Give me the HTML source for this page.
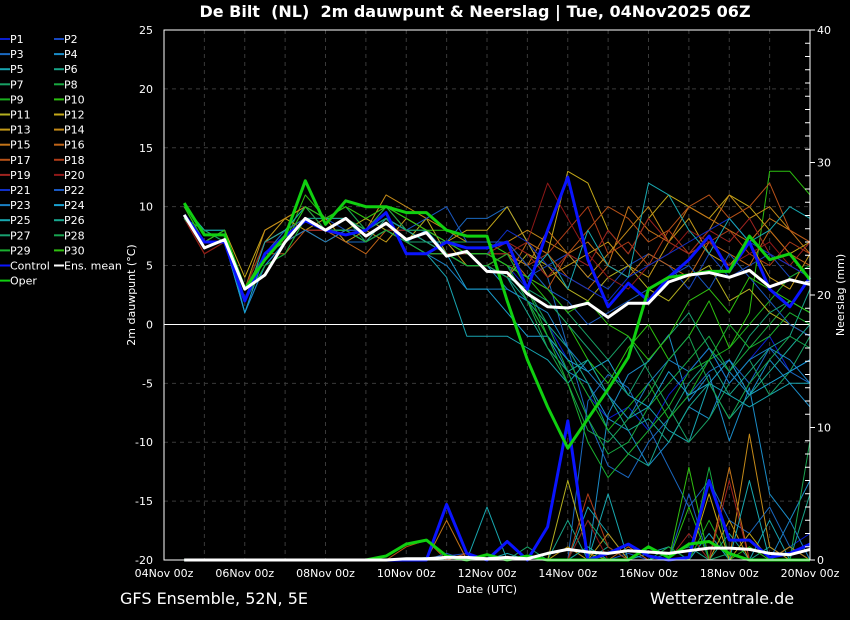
<!DOCTYPE html>
<html><head><meta charset="utf-8"><style>
html,body{margin:0;padding:0;background:#000;}
svg{display:block;font-family:"DejaVu Sans","Liberation Sans",sans-serif;}
</style></head><body>
<svg id="chart" width="850" height="620" viewBox="0 0 850 620">
<rect x="0" y="0" width="850" height="620" fill="#000"/>
<text x="475" y="17" fill="#fff" font-size="16" font-weight="bold" text-anchor="middle" xml:space="preserve">De Bilt  (NL)  2m dauwpunt &amp; Neerslag | Tue, 04Nov2025 06Z</text>
<g id="grid"></g>
<g id="legend"></g>
<g id="series"></g>
<g id="axes"></g>
<text x="120" y="604" fill="#fff" font-size="16">GFS Ensemble, 52N, 5E</text>
<text x="650" y="604" fill="#fff" font-size="16">Wetterzentrale.de</text>
</svg>
<script>
// time steps in days after 04Nov 00z (12-hourly)
const days = [0.5,1,1.5,2,2.5,3,3.5,4,4.5,5,5.5,6,6.5,7,7.5,8,8.5,9,9.5,10,10.5,11,11.5,12,12.5,13,13.5,14,14.5,15,15.5,16];
const xTickLabels = ["04Nov 00z","06Nov 00z","08Nov 00z","10Nov 00z","12Nov 00z","14Nov 00z","16Nov 00z","18Nov 00z","20Nov 00z"];
const yTicks = [25,20,15,10,5,0,-5,-10,-15,-20];
const y2Ticks = [0,10,20,30,40];
const memberNames = ["P1","P2","P3","P4","P5","P6","P7","P8","P9","P10","P11","P12","P13","P14","P15","P16","P17","P18","P19","P20","P21","P22","P23","P24","P25","P26","P27","P28","P29","P30"];
const memberColors = ["#0a1ed0","#1848c0","#1a68c0","#1a8cc8","#18a4b0","#18a488","#18a064","#18a840","#1ab01e","#2cc010","#b4b020","#c4a818","#c49a18","#c48a18","#c47418","#c06418","#b85218","#b03c18","#a02420","#901818","#1030c8","#1a58c0","#1a80c4","#1aa0d0","#18a8b0","#18a890","#18a070","#18a450","#1ab030","#30c010"];
const meanT = [9.3,6.5,7.2,3,4.2,7,9,8,9,7.5,8.6,7.2,7.8,5.8,6.2,4.5,4.4,2.6,1.5,1.4,1.8,0.6,1.8,1.8,3.6,4.2,4.4,4,4.6,3.2,3.8,3.4];
const operT = [10.3,7.6,7.6,3,5.5,7.5,12.2,8.5,10.5,10,10,9.5,9.5,8,7.5,7.5,2,-3,-7,-10.5,-8,-5.5,-2.8,3,4,4.2,4.5,4.5,7.5,5.5,6,3.8];
const controlT = [9.3,7,7,2,6,7.5,8.8,8,7.6,8,9.5,6,6,7,6.5,6.5,7,3,8,12.5,5.5,1.5,3.5,2,4,5.5,7.5,4.5,7,3,1.5,4];
const p1 = [9,7,7,2,5,7,9,8,9,8,9,8,7,7,6,6,5,3,0,-3,-6,-8,-7,-9,-6,-4,-2,-5,-3,-1,-4,-3];
const p2 = [9,7,7,3,6,8,9,9,8,7,9,7,8,6,6,6,5,4,5,6,4,3,5,6,5,3,6,4,5,6,4,5];
const p3 = [10,8,7,2,6,7,8,8,7,7,8,7,8,7,9,9,10,7,4,-2,-8,-12,-13,-10,-8,-6,-4,-3,-5,-2,-4,-5];
const p4 = [9,7,8,1,5,7,9,8,8,8,9,7,6,6,5,5,3,2,-1,-4,-5,-8,-9,-12,-10,-7,-8,-4,-6,-3,-5,-7];
const p5 = [9,7,7,2,6,7,8,7,8,7,8,7,6,4,-1,-1,-1,-2,-3,-5,-3,-6,-8,-7,-9,-10,-5,-6,-7,-6,-5,-5];
const p6 = [10,8,8,3,7,8,9,9,10,8,9,8,7,6,5,5,4,2,0,-2,-5,-9,-11,-12,-8,-5,-3,-6,-4,-2,-1,3];
const p7 = [9,8,7,2,5,6,9,8,9,7,8,8,7,6,6,6,6,5,3,1,-1,-3,-1,-4,-7,-10,-8,-5,-3,-6,-4,-1];
const p8 = [10,7,8,2,6,8,10,9,10,8,10,9,8,7,7,7,6,3,0,-4,-8,-11,-10,-7,-5,-3,-1,-4,-2,0,2,1];
const p9 = [9,7,7,2,6,7,9,8,9,8,9,8,8,7,6,6,5,2,-1,-3,-6,-9,-7,-5,-8,-6,-3,-2,0,2,4,5];
const p10 = [10,8,7,3,6,7,11,9,10,9,10,9,8,8,7,7,6,4,2,0,-3,-5,-2,0,-3,-1,2,-2,1,13,13,11];
const p11 = [9,7,7,3,7,8,9,8,8,9,8,7,9,6,5,5,4,6,5,3,2,4,5,3,2,4,5,2,3,1,0,-1];
const p12 = [9,7,8,4,8,9,10,8,9,8,10,8,7,7,8,8,10,7,6,13,12,8,6,9,11,10,9,11,10,8,6,7];
const p13 = [9,7,7,3,7,9,8,9,7,8,7,9,8,7,5,5,6,7,4,5,6,7,5,4,7,9,6,5,7,4,3,6];
const p14 = [9,7,7,3,8,9,10,9,9,8,11,10,9,8,7,7,7,8,7,6,4,6,8,10,7,6,8,11,9,10,8,7];
const p15 = [9,7,7,2,7,8,9,8,8,7,9,8,7,7,6,6,6,5,8,6,7,5,10,8,7,10,9,8,7,9,8,6];
const p16 = [9,6,7,3,6,7,8,8,7,6,8,7,6,6,5,5,4,7,6,4,3,5,4,6,5,4,7,6,5,8,6,5];
const p17 = [9,7,7,2,6,6,8,7,8,7,8,7,7,6,5,5,6,4,3,6,8,10,9,7,8,10,11,9,10,12,8,7];
const p18 = [9,6,7,3,6,7,8,8,8,7,9,7,7,6,6,6,7,5,6,8,10,6,7,5,8,6,7,8,6,5,7,6];
const p19 = [9,7,7,3,6,7,8,8,8,7,8,8,7,7,6,6,7,6,4,6,5,8,6,9,7,6,8,7,9,6,5,7];
const p20 = [9,6,7,3,7,7,9,8,8,7,8,8,7,6,6,6,6,7,12,9,6,4,3,5,6,8,7,5,6,7,5,4];
const p21 = [9,7,7,3,6,7,9,8,8,8,9,8,8,7,6,6,8,7,5,4,3,2,4,5,6,7,8,9,7,6,5,4];
const p22 = [9,7,7,2,6,8,9,8,8,8,9,8,9,10,7,7,7,5,3,2,0,1,2,3,4,5,3,6,4,2,0,-1];
const p23 = [9,7,7,1,5,7,8,7,8,7,8,7,6,5,3,3,3,2,1,-2,-4,-6,-8,-5,-3,-4,-2,-5,-3,-2,-3,-5];
const p24 = [9,7,7,1,6,7,9,8,8,7,8,7,8,6,3,3,1,-1,-1,-3,-4,-3,-6,-7,-4,-6,-5,-3,-6,-5,-4,-3];
const p25 = [10,8,8,2,7,8,10,9,9,8,9,8,7,7,6,6,5,4,6,3,8,5,4,12,11,8,6,9,7,8,10,9];
const p26 = [9,7,7,2,6,7,9,8,8,7,9,8,7,6,5,5,4,1,-2,-4,-3,-6,-9,-8,-10,-7,-5,-8,-6,-4,-2,0];
const p27 = [9,8,7,2,6,7,9,8,9,8,9,7,7,6,5,5,4,3,2,0,-2,-4,-6,-3,-1,1,-2,-4,-1,1,2,1];
const p28 = [10,7,8,2,6,7,10,8,9,8,10,8,8,7,6,6,5,2,-2,-5,-9,-10,-8,-6,-3,-1,-5,-8,-5,-3,-1,-2];
const p29 = [9,7,7,2,5,6,9,8,8,7,8,7,6,6,5,5,6,3,-1,-5,-10,-13,-11,-9,-7,-4,-3,0,-2,-1,1,0];
const p30 = [10,7,8,3,6,7,10,9,10,9,10,9,8,7,6,6,5,4,3,1,2,0,-1,-3,-1,2,3,1,4,3,2,1];
const memberT = [p1,p2,p3,p4,p5,p6,p7,p8,p9,p10,p11,p12,p13,p14,p15,p16,p17,p18,p19,p20,p21,p22,p23,p24,p25,p26,p27,p28,p29,p30];
// precipitation (mm per step)
const meanR = [0,0,0,0,0,0,0,0,0,0,0,0.1,0.1,0.2,0.2,0.1,0.2,0.1,0.5,0.8,0.6,0.5,0.7,0.6,0.5,0.7,0.9,0.9,0.8,0.5,0.4,0.8];
const operR = [0,0,0,0,0,0,0,0,0,0,0.3,1.2,1.5,0.3,0,0.4,0,0.3,0,0,0,0,0,1,0.2,1.2,1.4,0.5,0,0,0,0];
const controlR = [0,0,0,0,0,0,0,0,0,0,0,0,0,4.2,0.5,0,1.4,0,2.5,10.5,0,0.5,1.2,0.3,0,0.2,6,1.5,1.5,0.2,0.5,1.2];
const r1 = [0,0,0,0,0,0,0,0,0,0,0,0,0,0,0,0,0,0,0,0,0,0,0,0,0,0,0,0,0,0,1,2];
const r2 = [0,0,0,0,0,0,0,0,0,0,0,0,0,0.3,0.5,0,0,0,0,0,1,0,0.5,0,0,0,2,0,0,0,0,0];
const r3 = [0,0,0,0,0,0,0,0,0,0,0,0,0,0,0,0,0,0,0,0,12,14,13,10,7,4,6,3,2,4,1,0];
const r4 = [0,0,0,0,0,0,0,0,0,0,0,0,0,0,0,0,0,0,0,0,0,11,14,15,17,12,14,9,13,5,3,6];
const r5 = [0,0,0,0,0,0,0,0,0,0,0,0,0,0,0,0,0.5,0,0,0,4,2,0,0.5,1,0,2,0,0,3,0,0];
const r6 = [0,0,0,0,0,0,0,0,0,0,0,0,0,0,0,0,0,0,0,3,0,1,0,0,0.5,1,0,2,0,1,0,5];
const r7 = [0,0,0,0,0,0,0,0,0,0,0,0,0.2,0,0,0,0,1,0,0,3,1,0,0,1,0,0,0.5,0,0,1,0];
const r8 = [0,0,0,0,0,0,0,0,0,0,0,0,0,0,0,0,0,0,0,0,0,2,0,0,1,0,7,0,0,0,1,0];
const r9 = [0,0,0,0,0,0,0,0,0,0,0,0,0,0,0,0,0,0,0,0,0,0,0,0,0,0,3,0,0,0,0,0];
const r10 = [0,0,0,0,0,0,0,0,0,0,0,0,0,0,0,0,0,0,0,0,0,0,0,0,0,4,0,0,1,0,0,0];
const r11 = [0,0,0,0,0,0,0,0,0,0,0,0,0,0,0,0,0,0,0,6,0.5,0,0,0,0,0,0,0,0,0,0,0];
const r12 = [0,0,0,0,0,0,0,0,0,0,0,0,0,0,0,0,0,0,0,0,0,0,0,0,0,0,5,0,2,0,0,0];
const r13 = [0,0,0,0,0,0,0,0,0,0,0,0,0,0,0,0,0,0,0,1,0,0,0,0,0,0,0,3,0,0,0,0];
const r14 = [0,0,0,0,0,0,0,0,0,0,0,0,0,0,0,0,0,0,0,0,0,2,0,0,0,0,0,0,9.5,1,0,0];
const r15 = [0,0,0,0,0,0,0,0,0,0,0,0,0,3,0,0,0,0,0,0,0,0,0,0,0,0,0,7,0,0,1,0];
const r16 = [0,0,0,0,0,0,0,0,0,0,0,0,0,0,0,0,0,0,0,0,0,0,1,0,0,0,0,0,0,0,0,0];
const r17 = [0,0,0,0,0,0,0,0,0,0,0,1,1.5,0,0.5,0,0,0,0,0,0,0,0,0,0,0,0,0,0,0,0,0];
const r18 = [0,0,0,0,0,0,0,0,0,0,0,0,0,0,0,0,0,0,0,0,5,1,0,0,0,0,0,0,0,0,0,0];
const r19 = [0,0,0,0,0,0,0,0,0,0,0,0,0,0,0,0,0,0,0,0,0,0,0,0,0,2,0,6,0,0,0,0];
const r20 = [0,0,0,0,0,0,0,0,0,0,0,0,0,0,0,0,0,0,0,0,3,0,0,0,0,0,0,0,0,0,0,0];
const r21 = [0,0,0,0,0,0,0,0,0,0,0,0,0,0,0,0,0,0,0,0,0,0,0,0,0,0,0,0,0,0,0,0];
const r22 = [0,0,0,0,0,0,0,0,0,0,0,0,0,0.5,0,0,0,0,0,0,0,0,0,0,0,5,0,0,0,0,0,0];
const r23 = [0,0,0,0,0,0,0,0,0,0,0,0,0,0,0,0,0,0,0,0,0,0,0,0,0,0,0,0,0,0,3,0];
const r24 = [0,0,0,0,0,0,0,0,0,0,0,0,0,0,0,0,0,0,0,0,0,0,0,0,0,0,0,0,0,0,0,0];
const r25 = [0,0,0,0,0,0,0,0,0,0,0,0,0,0,0,4,0,0,0,0,0,5,0,0,0,0,0,0,6,0,0,0];
const r26 = [0,0,0,0,0,0,0,0,0,0,0,0,0,0,0,0,0,0,0,0,1,0,0,0,0,0,0,0,0,0,0,0];
const r27 = [0,0,0,0,0,0,0,0,0,0,0,0,0,0,0,0,0,0,0,0,0,0,0,0,0,0,0,0,0,0,0,0];
const r28 = [0,0,0,0,0,0,0,0,0,0,0,0,0,0,0,0,0,0,0,0,0,0,0,0,0,0,0,0,0,0,0,9];
const r29 = [0,0,0,0,0,0,0,0,0,0,0,0,0,0,0,0,0,0,0,0,0,0,0,0,0,0,0,0,0,0,0,0];
const r30 = [0,0,0,0,0,0,0,0,0,0,0,0,0,0,0,0,0,0,0,0,0,0,0,0,0,7,0,0,0,0,0,0];
const memberR = [r1,r2,r3,r4,r5,r6,r7,r8,r9,r10,r11,r12,r13,r14,r15,r16,r17,r18,r19,r20,r21,r22,r23,r24,r25,r26,r27,r28,r29,r30];

const NS = "http://www.w3.org/2000/svg";
const L = 164, R = 810, T = 30, B = 560;
function xS(d){ return L + d/16*(R-L); }
function yS(v){ return B - (v+20)/45*(B-T); }
function y2S(v){ return B - v/40*(B-T); }
function mk(tag, attrs, parent){
  const e = document.createElementNS(NS, tag);
  for (const k in attrs) e.setAttribute(k, attrs[k]);
  parent.appendChild(e); return e;
}
const grid = document.getElementById('grid');
const axes = document.getElementById('axes');
const series = document.getElementById('series');
const legend = document.getElementById('legend');

for (let d=1; d<16; d++){
  const g = mk('line',{x1:xS(d),x2:xS(d),y1:T,y2:B,stroke:'#3a3a3a','stroke-dasharray':'4,4','stroke-width':1},grid);
  
  
}
yTicks.forEach(v=>{
  if (v===0 || v===25 || v===-20) return;
  const g = mk('line',{x1:L,x2:R,y1:yS(v),y2:yS(v),stroke:'#3a3a3a','stroke-dasharray':'4,4','stroke-width':1},grid);
  
  
});
const zl = mk('line',{x1:L,x2:R,y1:yS(0),y2:yS(0),stroke:'#fff','stroke-width':1},grid);



function poly(vals, scale, color, w, name){
  const pts = vals.map((v,i)=> xS(days[i]).toFixed(1)+','+scale(v).toFixed(1)).join(' ');
  const p = mk('polyline',{points:pts,fill:'none',stroke:color,'stroke-width':w,'stroke-linejoin':'round'},series);
  
  
}
memberR.forEach((s,i)=> poly(s, y2S, memberColors[i], 1, 'precip-'+memberNames[i].toLowerCase()));
memberT.forEach((s,i)=> poly(s, yS, memberColors[i], 1, 'dewpoint-'+memberNames[i].toLowerCase()));
poly(controlR, y2S, '#0a14ff', 3, 'precip-control');
poly(operR, y2S, '#10d010', 3, 'precip-oper');
poly(meanR, y2S, '#ffffff', 3, 'precip-ens-mean');
poly(controlT, yS, '#0a14ff', 3, 'dewpoint-control');
poly(operT, yS, '#10d010', 3, 'dewpoint-oper');
poly(meanT, yS, '#ffffff', 3, 'dewpoint-ens-mean');

const fr = mk('rect',{x:L,y:T,width:R-L,height:B-T,fill:'none',stroke:'#fff','stroke-width':1},axes);


yTicks.forEach(v=>{
  const t = mk('text',{x:153,y:yS(v)+4,fill:'#fff','font-size':11,'text-anchor':'end'},axes);
  t.textContent = v;
  
  
});
for (let m=0; m<=40; m++){
  const tk = mk('line',{x1:R-(m%10===0?0:5),x2:R+(m%10===0?5:0),y1:y2S(m),y2:y2S(m),stroke:'#fff','stroke-width':1},axes);
  
  
}
y2Ticks.forEach(v=>{
  const t = mk('text',{x:817,y:y2S(v)+4,fill:'#fff','font-size':11},axes);
  t.textContent = v;
  
  
});
xTickLabels.forEach((s,i)=>{
  const t = mk('text',{x:xS(i*2),y:577,fill:'#fff','font-size':11,'text-anchor':'middle'},axes);
  t.textContent = s;
  
  
});
const xt = mk('text',{x:487,y:593,fill:'#fff','font-size':11,'text-anchor':'middle'},axes);
xt.textContent = 'Date (UTC)';


const yt = mk('text',{x:0,y:0,fill:'#fff','font-size':11,'text-anchor':'middle',transform:'translate(135,295) rotate(-90)'},axes);
yt.textContent = '2m dauwpunt (°C)';


const y2t = mk('text',{x:0,y:0,fill:'#fff','font-size':11,'text-anchor':'middle',transform:'translate(844,295) rotate(-90)'},axes);
y2t.textContent = 'Neerslag (mm)';



const legNames = memberNames.concat(['Control','Ens. mean','Oper']);
const legColors = memberColors.concat(['#0a14ff','#ffffff','#10d010']);
legNames.forEach((n,i)=>{
  const col = i%2, row = Math.floor(i/2);
  const x0 = col===0 ? 0 : 54, yy = 39 + row*15.1;
  const ln = mk('line',{x1:x0,x2:x0+10,y1:yy,y2:yy,stroke:legColors[i],'stroke-width':2},legend);
  
  
  const t = mk('text',{x:x0+10,y:yy+4,fill:'#fff','font-size':11},legend);
  t.textContent = n;
  
  
});
</script>
</body></html>
